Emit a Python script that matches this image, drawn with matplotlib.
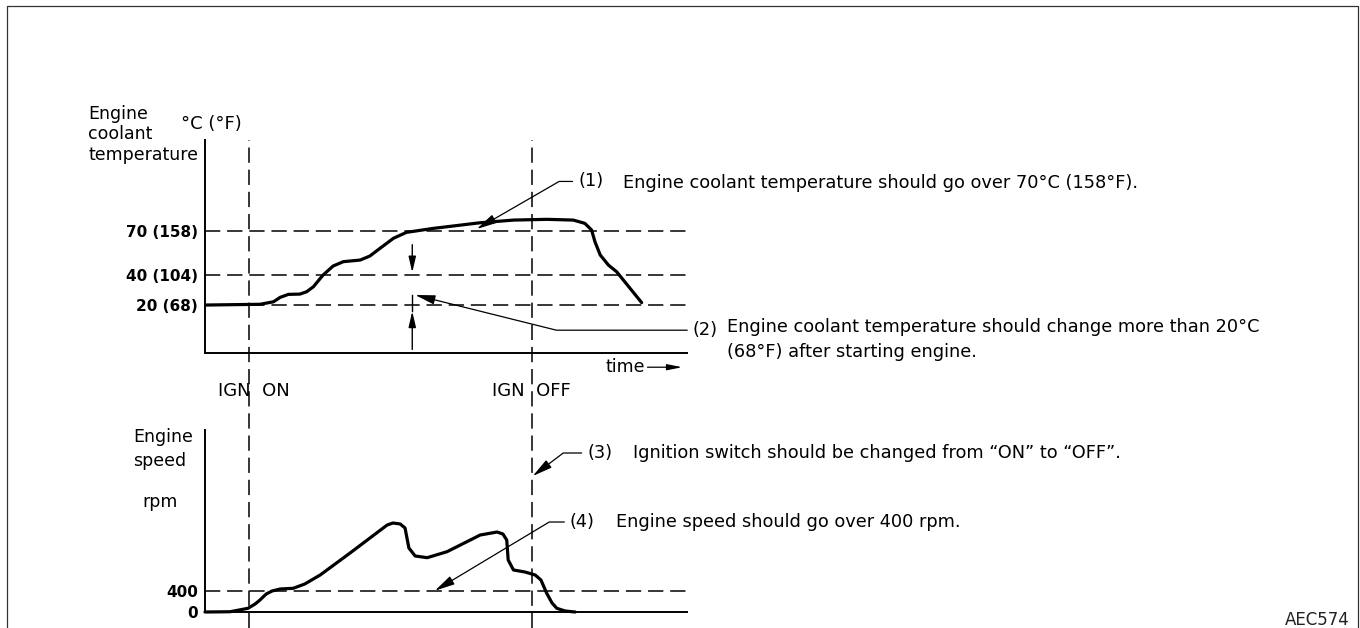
import matplotlib
matplotlib.use("Agg")
import matplotlib.pyplot as plt
from matplotlib.lines import Line2D

plt.rcParams['font.family'] = ['DejaVu Sans']

# coolant temperature trace (time units, deg C)
temp_t = [0, 11.4, 14.2, 15.6, 17.3, 19.7, 21.1, 22.5, 24.5, 26.6, 28.7, 32.2,
          34.2, 36.3, 39.1, 41.8, 47.4, 57.1, 64.0, 70.9, 76.4, 78.8, 80.2,
          80.9, 82.0, 83.7, 85.4, 90.6]
temp_c = [20, 20.5, 22.2, 25.2, 27.2, 27.4, 29.0, 32.4, 40.3, 46.4, 49.3, 50.4,
          53.1, 58.3, 65.1, 69.1, 71.8, 75.6, 77.4, 77.9, 77.4, 75.2, 70.7,
          62.8, 53.8, 47.0, 42.5, 21.6]
temp_levels = [20, 40, 70]
temp_labels = ["20 (68)", "40 (104)", "70 (158)"]

# engine speed trace (time units, rpm)
speed_t = [0, 5.2, 8.9, 10.4, 11.4, 12.7, 13.9, 15.6, 18.3, 20.7, 23.9, 30.1,
           37.8, 39.0, 40.5, 41.5, 41.9, 42.3, 43.6, 46.1, 50.2, 57.1, 60.6,
           61.8, 62.6, 62.9, 64.0, 66.4, 68.5, 69.7, 70.9, 72.0, 73.0, 74.7, 76.8]
speed_rpm = [0, 5, 69, 150, 225, 338, 394, 432, 445, 526, 695, 1108,
             1634, 1671, 1653, 1578, 1390, 1202, 1052, 1020, 1132, 1446, 1502,
             1465, 1352, 977, 789, 751, 695, 601, 351, 169, 69, 19, 0]
speed_levels = [0, 400]
speed_labels = ["0", "400"]

ign_on = 9.1
ign_off = 67.8

W, H = 1360, 628
FS = 12.5
NOTE = 12.8


def fx(px):
    return px / W


def fy(py):
    return 1 - py / H


fig = plt.figure(figsize=(13.6, 6.28), dpi=100)

# outer frame (open at bottom)
fig.add_artist(Line2D([fx(7), fx(7), fx(1358), fx(1358)],
                      [0, fy(6), fy(6), 0], color="#333333", lw=0.9))

ax1 = fig.add_axes([fx(205), fy(353), fx(687) - fx(205), (353 - 140) / H])
ax2 = fig.add_axes([fx(205), fy(612), fx(687) - fx(205), (612 - 430) / H])

ax1.set_xlim(0, 100)
ax1.set_ylim(-12.4, 131.5)
ax2.set_xlim(0, 100)
ax2.set_ylim(0, 3418)

for ax in (ax1, ax2):
    ax.patch.set_alpha(0)
    ax.spines[['top', 'right']].set_visible(False)
    for s in ('left', 'bottom'):
        ax.spines[s].set_linewidth(1.4)
    ax.set_xticks([])
    ax.tick_params(axis='y', length=0, pad=5)

dash = dict(color="black", lw=1.1, dashes=(10, 4.5))

ax1.set_yticks(temp_levels, temp_labels, fontsize=11, fontweight="bold")
for v in temp_levels:
    ax1.axhline(v, **dash)
ax1.plot(temp_t, temp_c, color="black", lw=2.3, solid_joinstyle="round",
         solid_capstyle="round")

ax2.set_yticks(speed_levels, speed_labels, fontsize=11, fontweight="bold")
ax2.axhline(400, **dash)
ax2.plot(speed_t, speed_rpm, color="black", lw=2.3, solid_joinstyle="round",
         solid_capstyle="round", clip_on=False)

# IGN ON / OFF lines run through both panels
for t in (ign_on, ign_off):
    ax1.axvline(t, ymin=-1.291, ymax=1.0, clip_on=False, **dash)

arrow = dict(arrowstyle="-|>,head_length=0.95,head_width=0.22", color="black",
             lw=0.9, shrinkA=2, shrinkB=0, relpos=(0, 0.5))

# (1)
ax1.annotate("(1)", xy=(56.4, 71.4), xytext=(77.4, 103.5), fontsize=NOTE,
             va="center", ha="left",
             arrowprops=dict(arrow, connectionstyle="angle,angleA=0,angleB=30,rad=0"))
fig.text(fx(623), fy(183), "Engine coolant temperature should go over 70°C (158°F).",
         fontsize=NOTE, va="center")

# (2)
ax1.annotate("(2)", xy=(43.6, 26.8), xytext=(101.2, 3.0), fontsize=NOTE,
             va="center", ha="left", annotation_clip=False,
             arrowprops=dict(arrow, connectionstyle="angle,angleA=0,angleB=-14,rad=0"))
fig.text(fx(727), fy(327), "Engine coolant temperature should change more than 20°C",
         fontsize=NOTE, va="center")
fig.text(fx(727), fy(352), "(68°F) after starting engine.", fontsize=NOTE, va="center")

# 20 deg change dimension arrows
ax1.annotate("", xy=(43.0, 42.0), xytext=(43.0, 60.8),
             arrowprops=dict(arrowstyle="-|>,head_length=0.95,head_width=0.22",
                             color="black", lw=1.0, shrinkA=0, shrinkB=0))
ax1.annotate("", xy=(43.0, 15.8), xytext=(43.0, -10.0),
             arrowprops=dict(arrowstyle="-|>,head_length=0.95,head_width=0.22",
                             color="black", lw=1.0, shrinkA=0, shrinkB=0))
ax1.plot([43.0, 43.0], [15.8, 26.8], color="black", lw=1.0)

ax1.annotate("time", xy=(100, -12.4), xytext=(83.0, -22.0), fontsize=FS,
             va="center", ha="left", annotation_clip=False)
ax1.annotate("", xy=(99.0, -22.0), xytext=(91.8, -22.0), annotation_clip=False,
             arrowprops=dict(arrowstyle="-|>,head_length=0.9,head_width=0.18",
                             color="black", lw=0.9, shrinkA=0, shrinkB=0))

fig.text(fx(254), fy(391), "IGN  ON", fontsize=13, ha="center", va="center")
fig.text(fx(531), fy(391), "IGN  OFF", fontsize=13, ha="center", va="center")

# (3)
ax2.annotate("(3)", xy=(68.0, 2554), xytext=(79.3, 2986), fontsize=NOTE,
             va="center", ha="left",
             arrowprops=dict(arrow, connectionstyle="angle,angleA=0,angleB=37,rad=0"))
fig.text(fx(633), fy(453), "Ignition switch should be changed from \u201cON\u201d to \u201cOFF\u201d.",
         fontsize=NOTE, va="center")

# (4)
ax2.annotate("(4)", xy=(47.7, 400), xytext=(75.7, 1690), fontsize=NOTE,
             va="center", ha="left",
             arrowprops=dict(arrow, connectionstyle="angle,angleA=0,angleB=31,rad=0"))
fig.text(fx(616), fy(522), "Engine speed should go over 400 rpm.", fontsize=NOTE,
         va="center")

# axis captions
for line, py in zip(["Engine", "coolant", "temperature"], [114, 134, 155]):
    fig.text(fx(88), fy(py), line, fontsize=FS, va="center", ha="left")
fig.text(fx(181), fy(124), "°C (°F)", fontsize=13, va="center", ha="left")
fig.text(fx(133), fy(437), "Engine", fontsize=FS, va="center", ha="left")
fig.text(fx(133), fy(461), "speed", fontsize=FS, va="center", ha="left")
fig.text(fx(142), fy(502), "rpm", fontsize=FS, va="center", ha="left")

fig.text(fx(1350), fy(620), "AEC574", fontsize=12, va="center", ha="right",
         color="#222222")

fig.savefig("out.png", dpi=100)
